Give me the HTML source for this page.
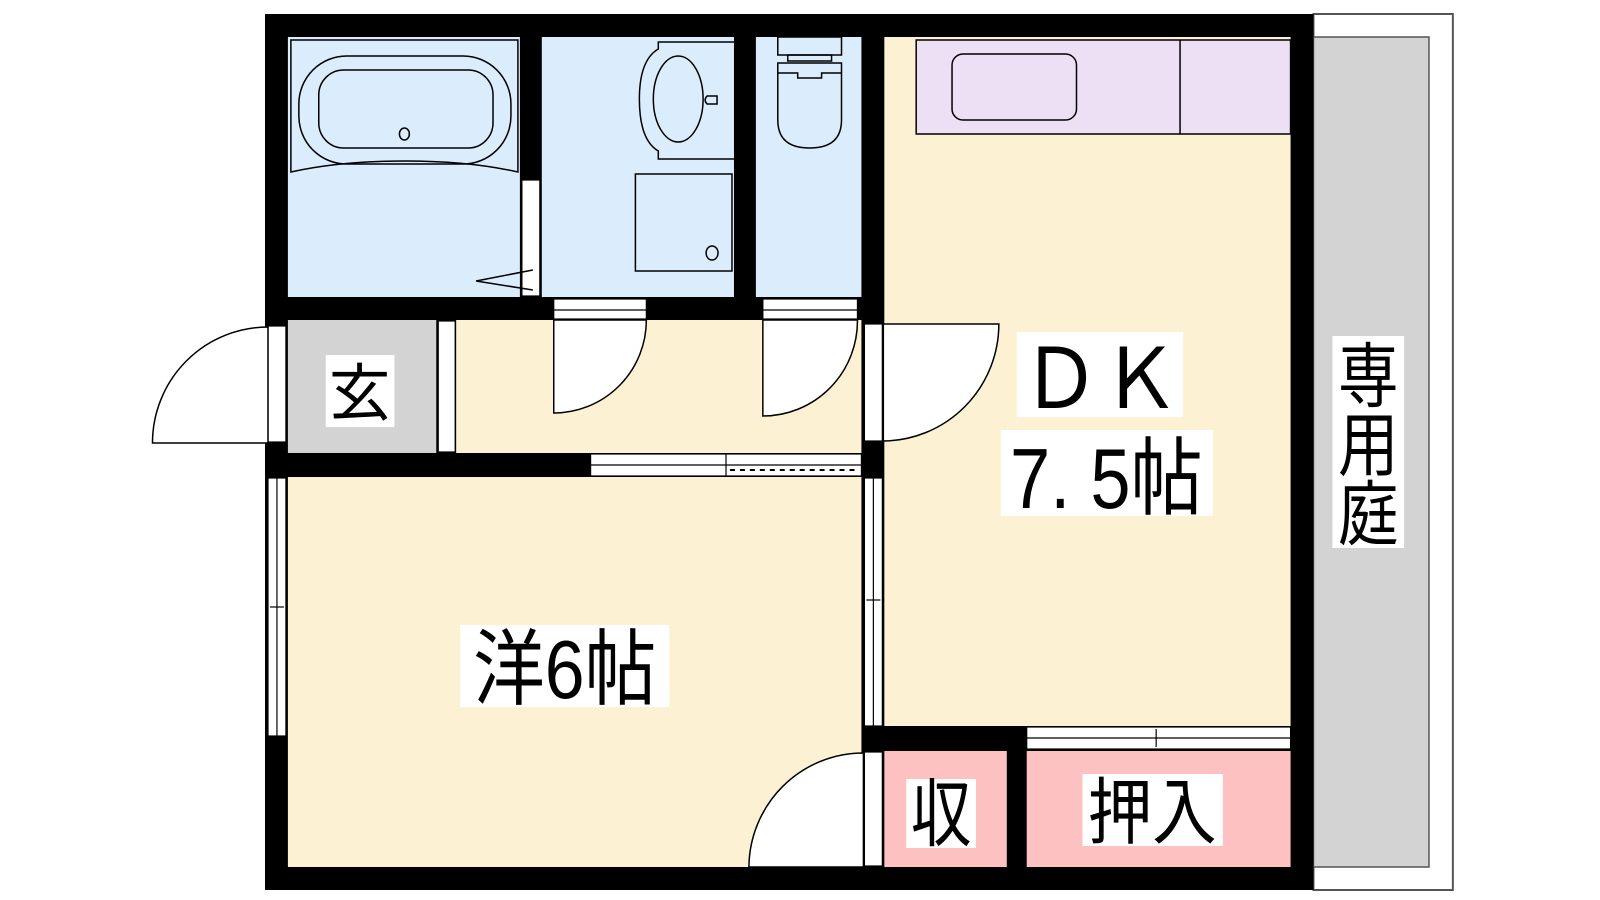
<!DOCTYPE html>
<html><head><meta charset="utf-8"><style>
html,body{margin:0;padding:0;background:#fff;width:1600px;height:900px;overflow:hidden}
svg{display:block}
text{font-family:"Liberation Sans","Noto Sans CJK JP",sans-serif;fill:#000}
</style></head><body>
<svg width="1600" height="900" viewBox="0 0 1600 900" xmlns="http://www.w3.org/2000/svg">
<g transform="translate(265 0) scale(0.9957 1) translate(-265 0)">
<!-- garden -->
<rect x="1318" y="14" width="140" height="876" fill="#fff" stroke="#555" stroke-width="2"/>
<rect x="1318" y="37" width="116" height="830" fill="#d3d3d3" stroke="#555" stroke-width="1.5"/>
<!-- walls base -->
<rect x="265" y="14" width="1053" height="876" fill="#000"/>
<!-- rooms -->
<rect x="288" y="37" width="233" height="260" fill="#dbecfd"/>
<rect x="543" y="37" width="193" height="260" fill="#dbecfd"/>
<rect x="758" y="37" width="106" height="260" fill="#dbecfd"/>
<rect x="887" y="37" width="408" height="689" fill="#fdf1d3"/>
<rect x="457" y="320" width="407" height="133" fill="#fdf1d3"/>
<rect x="288" y="320" width="149" height="133" fill="#d3d3d3"/>
<rect x="288" y="477" width="576" height="390" fill="#fdf1d3"/>
<rect x="887" y="751" width="123" height="116" fill="#fdc1c1"/>
<rect x="1030" y="751" width="265" height="116" fill="#fdc1c1"/>
<g fill="#fff" stroke="#000" stroke-width="1.2">
<rect x="439" y="321" width="17" height="131"/>
<rect x="523" y="180" width="18" height="116"/>
<rect x="555" y="299" width="93" height="20"/>
<rect x="765" y="299" width="95" height="20"/>
<rect x="268" y="326" width="18" height="116"/>
<rect x="867" y="324" width="18" height="117"/>
<rect x="592" y="454" width="272" height="22"/>
<rect x="268" y="478" width="18" height="258"/>
<rect x="867" y="478" width="18" height="248"/>
<rect x="867" y="752" width="18" height="114"/>
<rect x="1030" y="727" width="265" height="22"/>
</g>
<g stroke="#000" stroke-width="1.2" fill="none">
<line x1="592" y1="465" x2="864" y2="465"/><line x1="728" y1="454" x2="728" y2="476"/>
<line x1="732" y1="470" x2="862" y2="470" stroke-dasharray="5,5" stroke-width="2"/>
<line x1="277" y1="478" x2="277" y2="736"/><line x1="270" y1="607" x2="284" y2="607"/>
<line x1="876" y1="478" x2="876" y2="726"/><line x1="869" y1="600" x2="883" y2="600"/>
<line x1="1030" y1="738" x2="1295" y2="738"/><line x1="1160" y1="729" x2="1160" y2="747"/>
<line x1="555" y1="310" x2="648" y2="310"/><line x1="765" y1="310" x2="860" y2="310"/>
</g>
<g fill="#fff" stroke="#000" stroke-width="1.5">
<path d="M268 443 L152 443 A116 116 0 0 1 268 327 Z"/>
<path d="M555 320 L555 413 A93 93 0 0 0 648 320 Z"/>
<path d="M765 320 L765 416 A95 95 0 0 0 860 320 Z"/>
<path d="M886 324 L1002 324 A117 117 0 0 1 886 441 Z"/>
<path d="M866 753 A115 115 0 0 0 751 867 L866 867 Z"/>
<path d="M534 270 L477 281 L534 290" fill="none"/>
</g>
<g fill="none" stroke="#000" stroke-width="1.5">
<path d="M291 40 L519 40 L519 172 Q470 161 406 161 Q340 161 291 172 Z"/>
<rect x="299" y="56" width="213" height="108" rx="48"/>
<rect x="319" y="70" width="175" height="78" rx="25"/>
<ellipse cx="405" cy="134" rx="5" ry="6"/>
<path d="M736 42 L660 42 L660 49 Q641 60 641 99 Q641 140 660 151 L660 159 L736 159"/>
<ellipse cx="680" cy="99" rx="25" ry="43"/>
<path d="M709 96 L719 96 L719 104 L709 104 Q705 100 709 96 Z"/>
<rect x="637" y="174" width="97" height="97"/>
<ellipse cx="714" cy="253" rx="6" ry="7"/>
<rect x="780" y="37" width="64" height="18"/>
<rect x="790" y="55" width="44" height="6"/>
<path d="M780 63 L844 63 L844 120 Q844 148 812 148 Q780 148 780 120 Z"/>
<path d="M780 73 L800 73 L800 78 L824 78 L824 73 L844 73"/>
<rect x="919" y="40" width="376" height="94" fill="#ede0f5"/>
<line x1="1184" y1="40" x2="1184" y2="134"/>
<rect x="955" y="54" width="125" height="66" rx="11"/>
</g>
<g fill="#fff">
<rect x="326" y="355" width="69" height="72"/>
<rect x="1020" y="332" width="167" height="85"/>
<rect x="1004" y="430" width="213" height="86"/>
<rect x="461" y="625" width="210" height="82"/>
<rect x="909" y="779" width="70" height="69"/>
<rect x="1086" y="774" width="141" height="72"/>
<rect x="1337" y="336" width="72" height="212"/>
</g>
<text x="360" y="415" text-anchor="middle" font-size="62">玄</text>
<text transform="translate(1104 408) scale(1 1.05)" text-anchor="middle" font-size="80">ＤＫ</text>
<text transform="translate(1110 508) scale(0.98 1.15)" text-anchor="middle" font-size="74">7. 5帖</text>
<text transform="translate(566 698) scale(1 1.15)" text-anchor="middle" font-size="72">洋6帖</text>
<text transform="translate(944 840) scale(0.95 1.15)" text-anchor="middle" font-size="64">収</text>
<text transform="translate(1156 838) scale(0.98 1.1)" text-anchor="middle" font-size="66">押入</text>
<text transform="translate(1373 401) scale(0.95 1.1)" text-anchor="middle" font-size="64">専</text>
<text transform="translate(1373 470) scale(0.95 1.1)" text-anchor="middle" font-size="64">用</text>
<text transform="translate(1373 539) scale(0.95 1.1)" text-anchor="middle" font-size="64">庭</text>
</g>
</svg>
</body></html>
